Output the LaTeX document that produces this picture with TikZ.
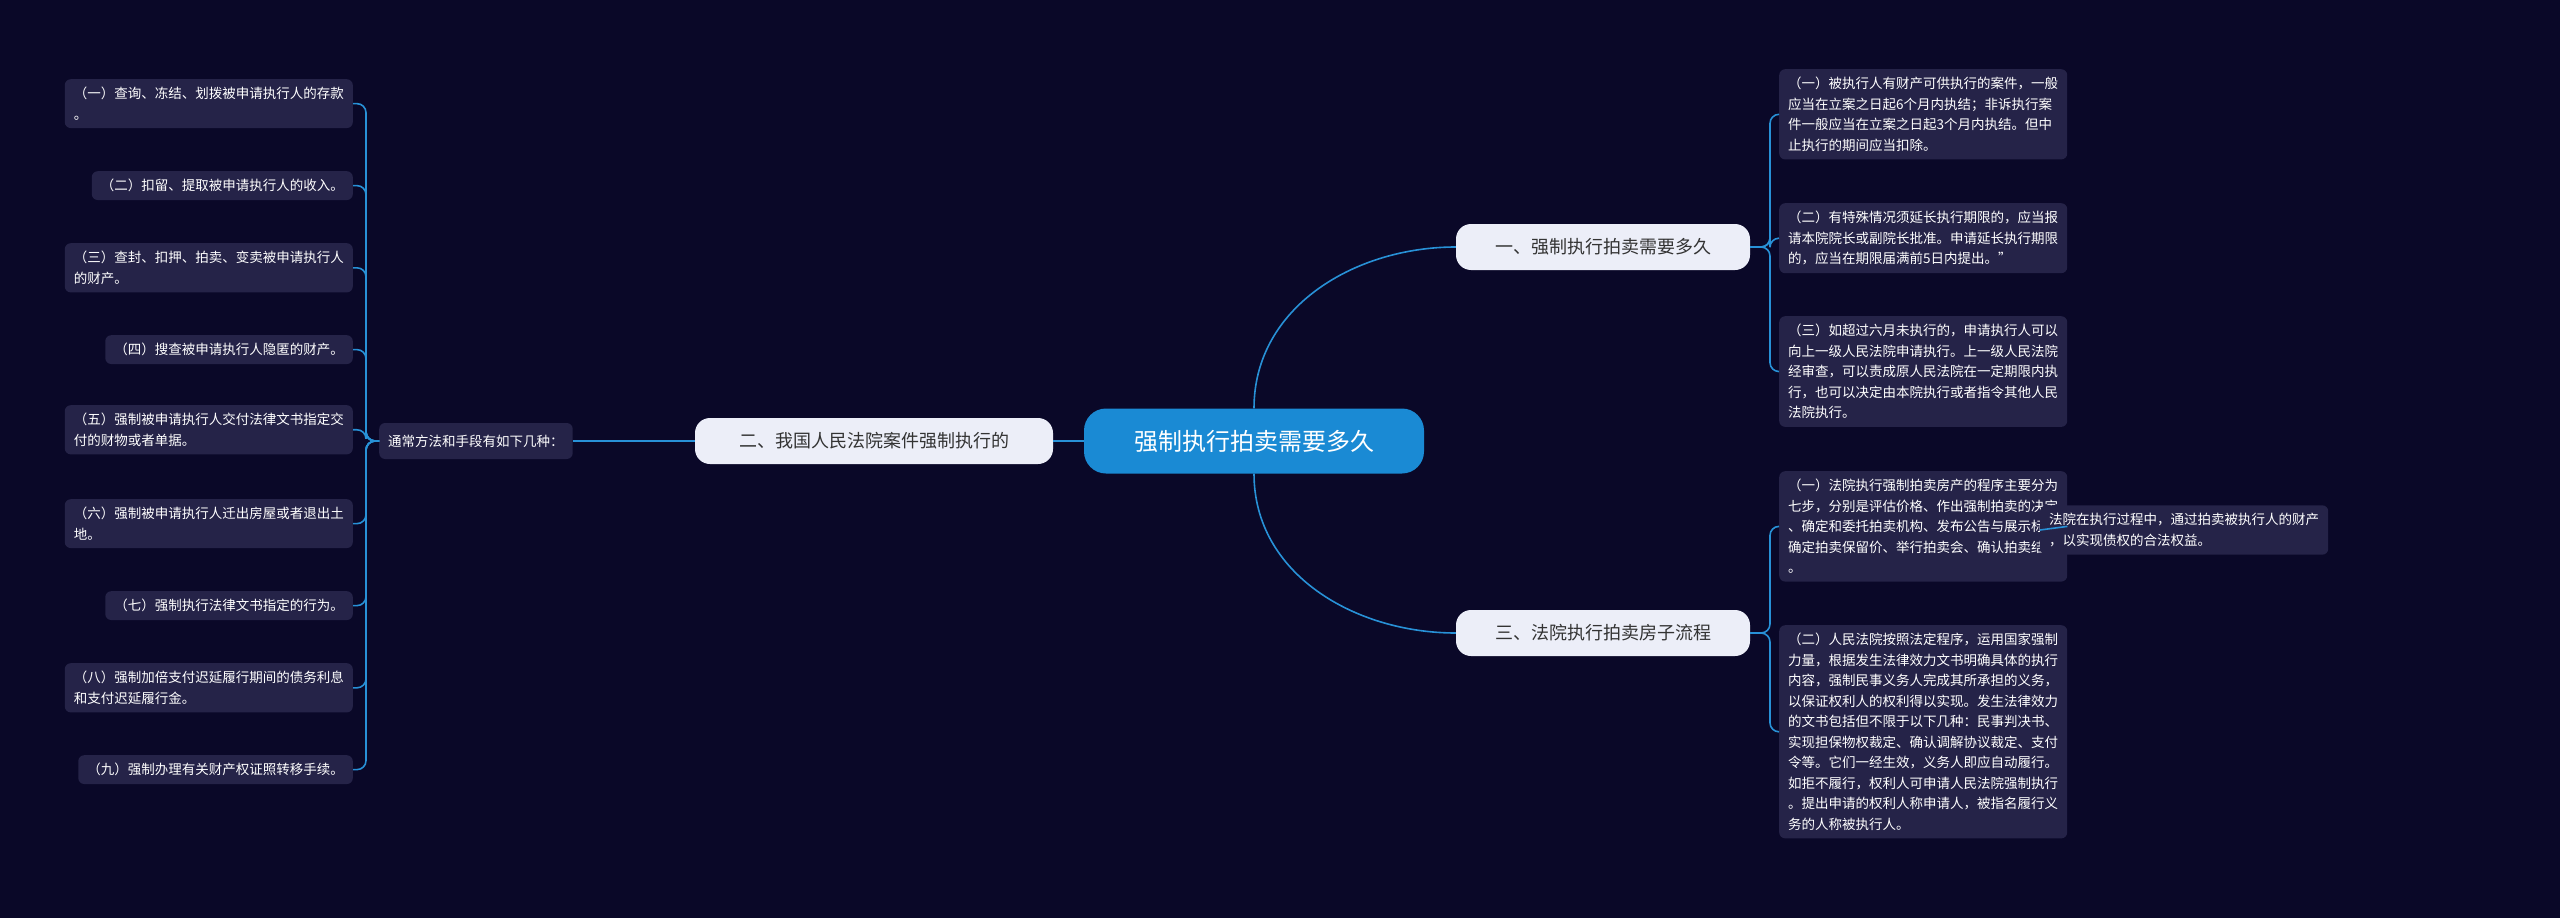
\documentclass[tikz,border=0pt]{standalone}
\usepackage{fontspec}
\setmainfont{Noto Sans CJK SC}
\definecolor{bg}{RGB}{10,8,40}
\definecolor{boxc}{RGB}{37,35,72}
\definecolor{linec}{RGB}{40,145,215}
\definecolor{lvl}{RGB}{236,238,248}
\definecolor{rootc}{RGB}{26,138,212}
\begin{document}
\begin{tikzpicture}[x=1pt,y=-1pt,
  leaf/.style={fill=boxc,rounded corners=6pt,text=white,align=left,inner xsep=9pt,inner ysep=8pt,font=\fontsize{13.5}{20.5}\selectfont},
  lvone/.style={fill=lvl,rounded corners=15pt,text=black!80,minimum height=46pt,minimum width=294pt,font=\fontsize{18}{22}\selectfont},
  conn/.style={draw=linec,line width=1.6pt,rounded corners=9pt}]
\fill[bg] (0,0) rectangle (2560,918);
\useasboundingbox (0,0) rectangle (2560,918);
% root
\node[fill=rootc,rounded corners=22pt,text=white,minimum width=340pt,minimum height=65pt,font=\fontsize{24}{28}\selectfont] (root) at (1254,441) {强制执行拍卖需要多久};
\node[lvone,minimum width=358pt] (l2) at (874,441) {二、我国人民法院案件强制执行的};
\node[lvone] (r1) at (1603,247) {一、强制执行拍卖需要多久};
\node[lvone] (r3) at (1603,633) {三、法院执行拍卖房子流程};
\node[leaf,minimum height=36pt,anchor=west] (tc) at (379,441) {通常方法和手段有如下几种：};
% left leaves
\node[leaf,anchor=north east] (a1) at (353,79) {（一）查询、冻结、划拨被申请执行人的存款\\。};
\node[leaf,anchor=north east] (a2) at (353,171) {（二）扣留、提取被申请执行人的收入。};
\node[leaf,anchor=north east] (a3) at (353,243) {（三）查封、扣押、拍卖、变卖被申请执行人\\的财产。};
\node[leaf,anchor=north east] (a4) at (353,335) {（四）搜查被申请执行人隐匿的财产。};
\node[leaf,anchor=north east] (a5) at (353,405) {（五）强制被申请执行人交付法律文书指定交\\付的财物或者单据。};
\node[leaf,anchor=north east] (a6) at (353,499) {（六）强制被申请执行人迁出房屋或者退出土\\地。};
\node[leaf,anchor=north east] (a7) at (353,591) {（七）强制执行法律文书指定的行为。};
\node[leaf,anchor=north east] (a8) at (353,663) {（八）强制加倍支付迟延履行期间的债务利息\\和支付迟延履行金。};
\node[leaf,anchor=north east] (a9) at (353,755) {（九）强制办理有关财产权证照转移手续。};
% right leaves
\node[leaf,anchor=north west] (b1) at (1779,69) {（一）被执行人有财产可供执行的案件，一般\\应当在立案之日起6个月内执结；非诉执行案\\件一般应当在立案之日起3个月内执结。但中\\止执行的期间应当扣除。};
\node[leaf,anchor=north west] (b2) at (1779,203) {（二）有特殊情况须延长执行期限的，应当报\\请本院院长或副院长批准。申请延长执行期限\\的，应当在期限届满前5日内提出。”};
\node[leaf,anchor=north west] (b3) at (1779,316) {（三）如超过六月未执行的，申请执行人可以\\向上一级人民法院申请执行。上一级人民法院\\经审查，可以责成原人民法院在一定期限内执\\行，也可以决定由本院执行或者指令其他人民\\法院执行。};
\node[leaf,anchor=north west] (c1) at (1779,471) {（一）法院执行强制拍卖房产的程序主要分为\\七步，分别是评估价格、作出强制拍卖的决定\\、确定和委托拍卖机构、发布公告与展示标、\\确定拍卖保留价、举行拍卖会、确认拍卖结案\\。};
\node[leaf,anchor=north west] (c2) at (1779,625) {（二）人民法院按照法定程序，运用国家强制\\力量，根据发生法律效力文书明确具体的执行\\内容，强制民事义务人完成其所承担的义务，\\以保证权利人的权利得以实现。发生法律效力\\的文书包括但不限于以下几种：民事判决书、\\实现担保物权裁定、确认调解协议裁定、支付\\令等。它们一经生效，义务人即应自动履行。\\如拒不履行，权利人可申请人民法院强制执行\\。提出申请的权利人称申请人，被指名履行义\\务的人称被执行人。};
\node[leaf,anchor=west] (d1) at (2040,530) {法院在执行过程中，通过拍卖被执行人的财产\\，以实现债权的合法权益。};
% connectors
\draw[conn] (root.west) -- (l2.east);
\draw[conn] (l2.west) -- (tc.east);
\foreach \n in {a1,a2,a3,a4,a5,a6,a7,a8,a9}
  \draw[conn] (tc.west) -- (366,441) |- (\n.east);
\draw[conn,rounded corners=0pt] (root.north) to[out=90,in=180] (r1.west);
\draw[conn,rounded corners=0pt] (root.south) to[out=-90,in=180] (r3.west);
\foreach \n in {b1,b2,b3}
  \draw[conn] (r1.east) -- (1770,247) |- (\n.west);
\foreach \n in {c1,c2}
  \draw[conn] (r3.east) -- (1770,633) |- (\n.west);
\draw[conn] (c1.east) -- (d1.west);
\end{tikzpicture}
\end{document}
